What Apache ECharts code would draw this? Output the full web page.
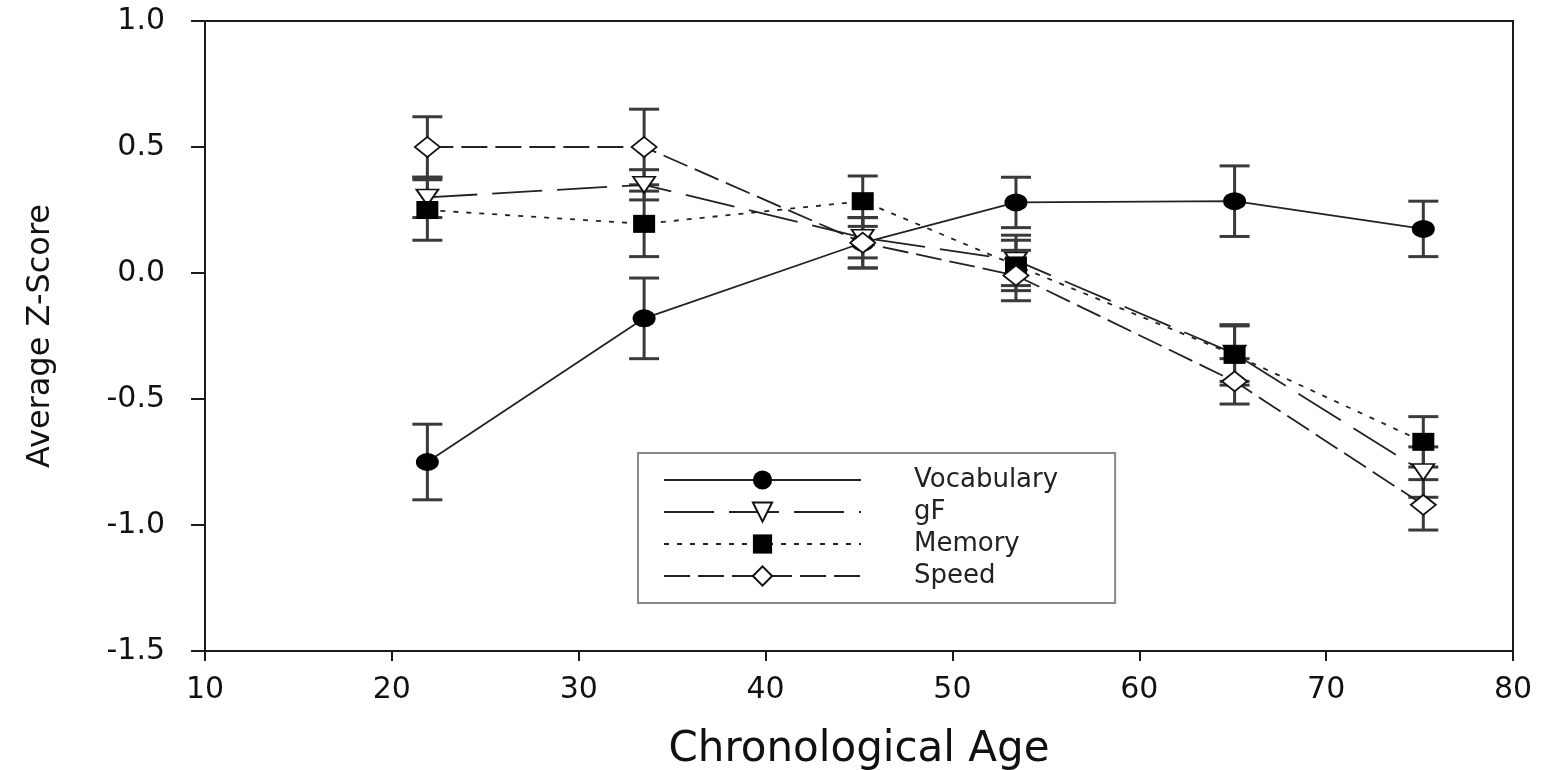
<!DOCTYPE html>
<html>
<head>
<meta charset="utf-8">
<script src="https://cdn.jsdelivr.net/npm/echarts@6/dist/echarts.min.js"></script>
<style>
  html, body { margin: 0; padding: 0; background: #fff; }
  #chart { width: 1549px; height: 770px; }
</style>
</head>
<body>
<div id="chart"></div>
<script>
// ---- data ----
const ages = [21.9, 33.5, 45.2, 53.4, 65.1, 75.2];
const seriesNames = ['Vocabulary', 'gF', 'Memory', 'Speed'];
const vocabMean = [-0.75, -0.18, 0.12, 0.28, 0.285, 0.175];
const vocabErr  = [0.15, 0.16, 0.10, 0.10, 0.14, 0.11];
const gfMean    = [0.30, 0.35, 0.14, 0.05, -0.32, -0.79];
const gfErr     = [0.08, 0.06, 0.08, 0.10, 0.11, 0.10];
const memMean   = [0.25, 0.195, 0.285, 0.03, -0.325, -0.67];
const memErr    = [0.12, 0.13, 0.10, 0.10, 0.12, 0.10];
const speedMean = [0.50, 0.50, 0.12, -0.01, -0.43, -0.92];
const speedErr  = [0.12, 0.15, 0.10, 0.10, 0.09, 0.10];
const xTicks = [10, 20, 30, 40, 50, 60, 70, 80];
const yTicks = [-1.5, -1.0, -0.5, 0.0, 0.5, 1.0];

const INK = '#1a1a1a';
const FONT = 'DejaVu Sans';

function pts(mean) { return ages.map((a, i) => [a, mean[i]]); }
function errPts(mean, err) { return ages.map((a, i) => [a, mean[i] - err[i], mean[i] + err[i]]); }

function errorSeries(mean, err) {
  return {
    type: 'custom',
    silent: true,
    z: 1,
    data: errPts(mean, err),
    renderItem: function (params, api) {
      const x = api.value(0);
      const lo = api.coord([x, api.value(1)]);
      const hi = api.coord([x, api.value(2)]);
      const half = 15;
      const style = { stroke: '#3a3a3a', lineWidth: 3 };
      return {
        type: 'group',
        children: [
          { type: 'line', shape: { x1: lo[0], y1: lo[1], x2: hi[0], y2: hi[1] }, style: style },
          { type: 'line', shape: { x1: lo[0] - half, y1: lo[1], x2: lo[0] + half, y2: lo[1] }, style: style },
          { type: 'line', shape: { x1: hi[0] - half, y1: hi[1], x2: hi[0] + half, y2: hi[1] }, style: style }
        ]
      };
    }
  };
}

function lineSeries(name, mean, symbol, size, fill, dash) {
  return {
    name: name,
    type: 'line',
    z: 3,
    data: pts(mean),
    symbol: symbol,
    symbolSize: size,
    showAllSymbol: true,
    lineStyle: { color: '#222', width: 1.8, type: dash },
    itemStyle: { color: fill, borderColor: '#111', borderWidth: fill === '#fff' ? 1.8 : 0 },
    emphasis: { disabled: true },
    animation: false
  };
}

const ellipse = 'path://M0,5 A5,5 0 1 1 10,5 A5,5 0 1 1 0,5 Z';
const downTri = 'path://M0,0 L10,0 L5,9 Z';

const chart = echarts.init(document.getElementById('chart'), null, { renderer: 'canvas' });
chart.setOption({
  animation: false,
  backgroundColor: '#fff',
  grid: {
    left: 205, right: 36, top: 21, bottom: 119,
    outerBoundsMode: 'none',
    containLabel: false,
    show: true, borderColor: INK, borderWidth: 2, backgroundColor: 'transparent'
  },
  xAxis: {
    type: 'value',
    min: xTicks[0], max: xTicks[xTicks.length - 1], interval: 10,
    name: 'Chronological Age',
    nameLocation: 'middle',
    nameGap: 78,
    nameTextStyle: { fontFamily: FONT, fontSize: 42, color: '#111' },
    axisLine: { show: true, onZero: false, lineStyle: { color: INK, width: 2 } },
    axisTick: { show: true, inside: false, length: 10, lineStyle: { color: INK, width: 2 } },
    axisLabel: { fontFamily: FONT, fontSize: 30, color: '#111', margin: 24 },
    splitLine: { show: false }
  },
  yAxis: {
    type: 'value',
    min: yTicks[0], max: yTicks[yTicks.length - 1], interval: 0.5,
    name: 'Average Z-Score',
    nameLocation: 'middle',
    nameRotate: 90,
    nameGap: 148,
    nameTextStyle: { fontFamily: FONT, fontSize: 32, color: '#111' },
    axisLine: { show: true, onZero: false, lineStyle: { color: INK, width: 2 } },
    axisTick: { show: true, inside: false, length: 14, lineStyle: { color: INK, width: 2 } },
    axisLabel: {
      fontFamily: FONT, fontSize: 30, color: '#111', margin: 40,
      formatter: v => v.toFixed(1)
    },
    splitLine: { show: false }
  },
  legend: {
    show: true,
    left: 638, top: 453,
    orient: 'vertical',
    data: seriesNames,
    itemWidth: 197, itemHeight: 24,
    itemGap: 6,
    padding: [14, 57, 14, 25],
    backgroundColor: '#fff',
    borderColor: '#888',
    borderWidth: 2,
    borderRadius: 0,
    selectedMode: false,
    textStyle: { fontFamily: FONT, fontSize: 26, color: '#222', padding: [0, 0, 0, 48], lineHeight: 25 }
  },
  series: [
    errorSeries(vocabMean, vocabErr),
    errorSeries(gfMean, gfErr),
    errorSeries(memMean, memErr),
    errorSeries(speedMean, speedErr),
    lineSeries(seriesNames[0], vocabMean, ellipse, [23, 18], '#000', 'solid'),
    lineSeries(seriesNames[1], gfMean, downTri, [22, 16], '#fff', [50, 15]),
    lineSeries(seriesNames[2], memMean, 'rect', [22, 18], '#000', [5, 8]),
    lineSeries(seriesNames[3], speedMean, 'diamond', [25, 20], '#fff', [26, 8])
  ]
});
</script>
</body>
</html>
